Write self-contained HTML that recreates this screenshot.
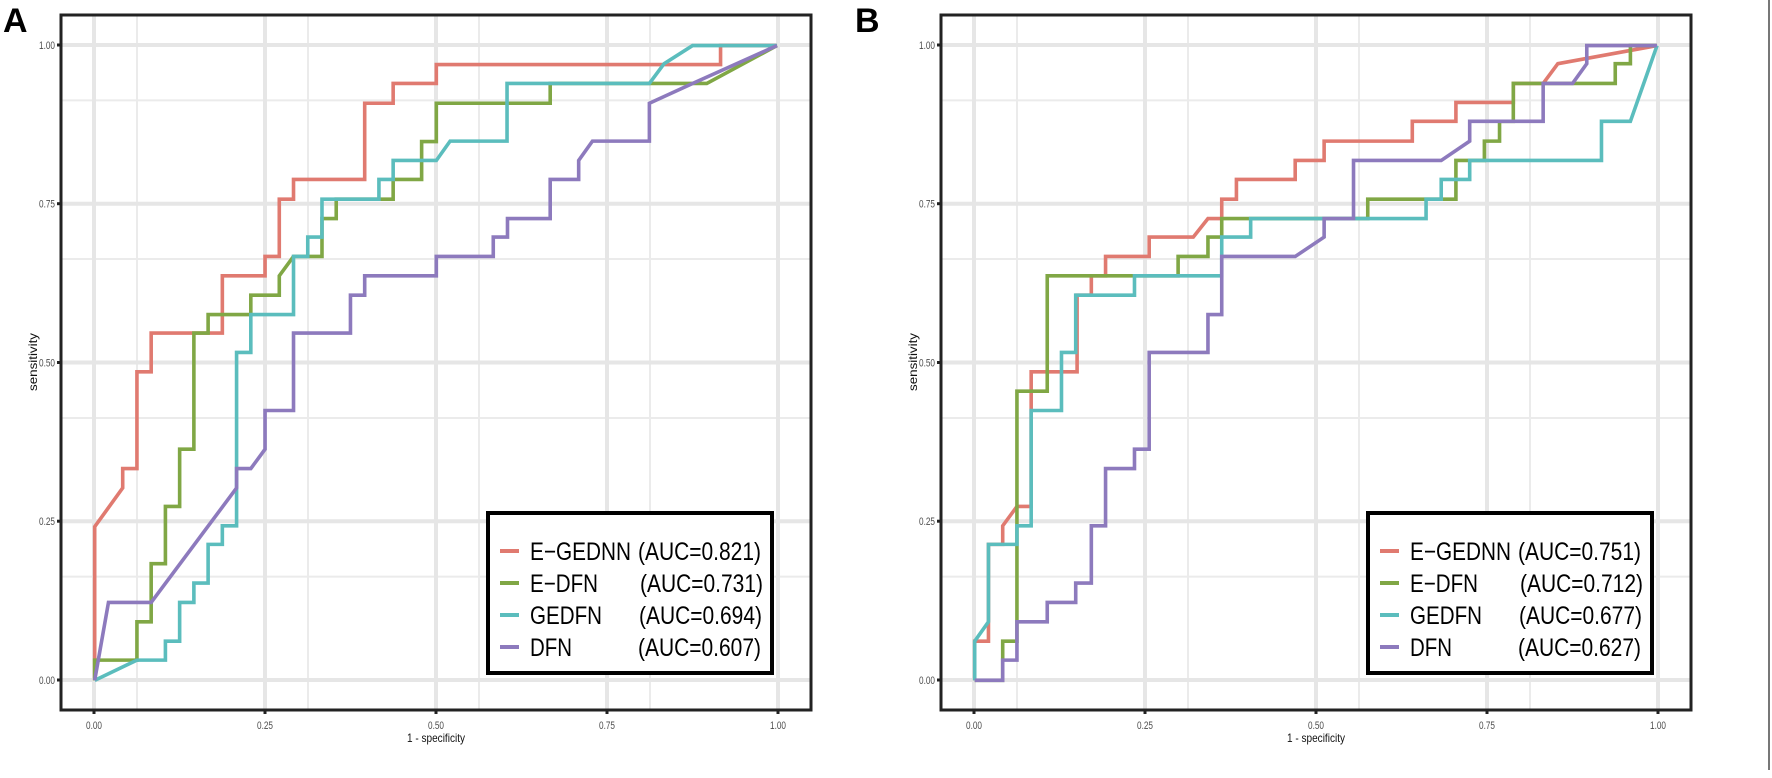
<!DOCTYPE html>
<html><head><meta charset="utf-8"><style>
html,body{margin:0;padding:0;background:#fff;}
svg{display:block;font-family:"Liberation Sans",sans-serif;}
</style></head><body>
<svg width="1772" height="778" viewBox="0 0 1772 778" xmlns="http://www.w3.org/2000/svg">
<defs>
<g id="grid">
  <g stroke="#ebebeb" stroke-width="2">
    <line x1="0" y1="85.4" x2="750" y2="85.4"/><line x1="0" y1="244" x2="750" y2="244"/>
    <line x1="0" y1="403" x2="750" y2="403"/><line x1="0" y1="561.6" x2="750" y2="561.6"/>
    <line x1="76" y1="0" x2="76" y2="695"/><line x1="247" y1="0" x2="247" y2="695"/>
    <line x1="418" y1="0" x2="418" y2="695"/><line x1="589" y1="0" x2="589" y2="695"/>
  </g>
  <g stroke="#e6e6e6" stroke-width="4">
    <line x1="0" y1="30" x2="750" y2="30"/><line x1="0" y1="188.7" x2="750" y2="188.7"/>
    <line x1="0" y1="347.5" x2="750" y2="347.5"/><line x1="0" y1="506.2" x2="750" y2="506.2"/>
    <line x1="0" y1="665" x2="750" y2="665"/>
    <line x1="33" y1="0" x2="33" y2="695"/><line x1="204" y1="0" x2="204" y2="695"/>
    <line x1="375" y1="0" x2="375" y2="695"/><line x1="546" y1="0" x2="546" y2="695"/>
    <line x1="717" y1="0" x2="717" y2="695"/>
  </g>
  <rect x="0" y="0" width="750" height="695" fill="none" stroke="#222" stroke-width="3"/>
  <g stroke="#222" stroke-width="3">
    <line x1="-4" y1="30" x2="0" y2="30"/><line x1="-4" y1="188.7" x2="0" y2="188.7"/>
    <line x1="-4" y1="347.5" x2="0" y2="347.5"/><line x1="-4" y1="506.2" x2="0" y2="506.2"/>
    <line x1="-4" y1="665" x2="0" y2="665"/>
    <line x1="33" y1="695" x2="33" y2="699"/><line x1="204" y1="695" x2="204" y2="699"/>
    <line x1="375" y1="695" x2="375" y2="699"/><line x1="546" y1="695" x2="546" y2="699"/>
    <line x1="717" y1="695" x2="717" y2="699"/>
  </g>
  <g font-size="11" fill="#4d4d4d">
    <text x="-22" y="34" textLength="16" lengthAdjust="spacingAndGlyphs">1.00</text>
    <text x="-22" y="192.7" textLength="16" lengthAdjust="spacingAndGlyphs">0.75</text>
    <text x="-22" y="351.5" textLength="16" lengthAdjust="spacingAndGlyphs">0.50</text>
    <text x="-22" y="510.2" textLength="16" lengthAdjust="spacingAndGlyphs">0.25</text>
    <text x="-22" y="669" textLength="16" lengthAdjust="spacingAndGlyphs">0.00</text>
  </g>
  <g font-size="11" fill="#4d4d4d">
    <text x="25" y="714" textLength="16" lengthAdjust="spacingAndGlyphs">0.00</text>
    <text x="196" y="714" textLength="16" lengthAdjust="spacingAndGlyphs">0.25</text>
    <text x="367" y="714" textLength="16" lengthAdjust="spacingAndGlyphs">0.50</text>
    <text x="538" y="714" textLength="16" lengthAdjust="spacingAndGlyphs">0.75</text>
    <text x="709" y="714" textLength="16" lengthAdjust="spacingAndGlyphs">1.00</text>
  </g>
  <text x="346" y="727" font-size="12" fill="#111" textLength="58" lengthAdjust="spacingAndGlyphs">1 - specificity</text>
  <text transform="translate(-24,376) rotate(-90)" font-size="12" fill="#111" textLength="58" lengthAdjust="spacingAndGlyphs">sensitivity</text>
</g>
<g id="legtext">
  <g stroke-width="4">
    <line x1="12" y1="38" x2="31" y2="38" stroke="#e07a70"/>
    <line x1="12" y1="70" x2="31" y2="70" stroke="#80a745"/>
    <line x1="12" y1="102" x2="31" y2="102" stroke="#5bbdbd"/>
    <line x1="12" y1="134" x2="31" y2="134" stroke="#8d7abd"/>
  </g>
  <g font-size="25" fill="#000">
    <text x="42" y="47" textLength="101" lengthAdjust="spacingAndGlyphs">E−GEDNN</text>
    <text x="42" y="79" textLength="68" lengthAdjust="spacingAndGlyphs">E−DFN</text>
    <text x="42" y="111" textLength="72" lengthAdjust="spacingAndGlyphs">GEDFN</text>
    <text x="42" y="143" textLength="42" lengthAdjust="spacingAndGlyphs">DFN</text>
  </g>
</g>
</defs>

<text x="3" y="32" font-size="34" font-weight="bold" fill="#000">A</text>
<text x="855" y="32" font-size="34" font-weight="bold" fill="#000">B</text>
<line x1="1769" y1="0" x2="1769" y2="770" stroke="#777" stroke-width="2"/>

<g transform="translate(61,15)"><use href="#grid"/></g>
<g transform="translate(941,15)"><use href="#grid"/></g>

<g transform="translate(80,30) scale(0.45918,0.42092)" fill="none">
<polyline vector-effect="non-scaling-stroke" stroke-width="3.6" stroke="#e07a70" points="32,1545 32,1180 93,1088 93,1042 124,1042 124,812 155,812 155,720 310,720 310,584 403,584 403,538 434,538 434,402 465,402 465,355 620,355 620,174 682,174 682,127 776,127 776,82 1395,82 1395,37 1518,37"/>
<polyline vector-effect="non-scaling-stroke" stroke-width="3.6" stroke="#80a745" points="32,1545 32,1497 124,1497 124,1406 155,1406 155,1268 186,1268 186,1132 217,1132 217,996 248,996 248,720 279,720 279,676 372,676 372,630 434,630 434,584 465,538 527,538 527,448 558,448 558,402 682,402 682,355 744,355 744,265 776,265 776,174 1024,174 1024,127 1365,127 1518,37"/>
<polyline vector-effect="non-scaling-stroke" stroke-width="3.6" stroke="#5bbdbd" points="32,1545 124,1497 186,1497 186,1452 217,1452 217,1360 248,1360 248,1314 279,1314 279,1222 310,1222 310,1178 341,1178 341,766 372,766 372,676 465,676 465,538 496,538 496,492 527,492 527,402 651,402 651,355 682,355 682,310 776,310 806,264 930,264 930,127 1240,127 1272,80 1334,37 1518,37"/>
<polyline vector-effect="non-scaling-stroke" stroke-width="3.6" stroke="#8d7abd" points="32,1545 62,1360 155,1360 341,1088 341,1042 372,1042 403,996 403,904 465,904 465,720 589,720 589,630 620,630 620,584 776,584 776,538 900,538 900,492 931,492 931,448 1024,448 1024,355 1086,355 1086,310 1116,264 1240,264 1240,174 1334,127 1518,37"/>
</g>

<g transform="translate(960,30) scale(0.45918,0.42092)" fill="none">
<polyline vector-effect="non-scaling-stroke" stroke-width="3.6" stroke="#e07a70" points="32,1545 32,1452 62,1452 62,1222 93,1222 93,1178 124,1132 155,1132 155,812 255,812 255,630 286,630 286,584 317,584 317,538 412,538 412,492 508,492 540,448 570,448 570,402 602,402 602,355 730,355 730,310 793,310 793,264 985,264 985,217 1080,217 1080,172 1205,172 1205,127 1270,127 1302,80 1518,37"/>
<polyline vector-effect="non-scaling-stroke" stroke-width="3.6" stroke="#80a745" points="32,1545 93,1545 93,1452 124,1452 124,858 190,858 190,584 475,584 475,538 540,538 540,492 570,492 570,448 888,448 888,402 1080,402 1080,310 1142,310 1142,264 1175,264 1175,217 1205,217 1205,127 1427,127 1427,80 1460,80 1460,37 1518,37"/>
<polyline vector-effect="non-scaling-stroke" stroke-width="3.6" stroke="#5bbdbd" points="32,1545 32,1452 62,1406 62,1222 124,1222 124,1178 155,1178 155,904 221,904 221,766 252,766 252,630 380,630 380,584 570,584 570,492 633,492 633,448 1015,448 1015,402 1048,402 1048,355 1110,355 1110,310 1397,310 1397,217 1460,217 1518,37"/>
<polyline vector-effect="non-scaling-stroke" stroke-width="3.6" stroke="#8d7abd" points="32,1545 93,1545 93,1497 124,1497 124,1406 190,1406 190,1360 252,1360 252,1314 286,1314 286,1178 317,1178 317,1042 380,1042 380,996 412,996 412,766 540,766 540,676 570,676 570,538 730,538 793,492 793,448 857,448 857,310 1048,310 1110,264 1110,217 1270,217 1270,127 1334,127 1365,80 1365,37 1518,37"/>
</g>

<g transform="translate(488,513)">
  <rect x="0" y="0" width="284" height="160" fill="#fff" stroke="#000" stroke-width="4"/>
  <use href="#legtext"/>
  <g font-size="25" fill="#000">
    <text x="150" y="47" textLength="123" lengthAdjust="spacingAndGlyphs">(AUC=0.821)</text>
    <text x="152" y="79" textLength="123" lengthAdjust="spacingAndGlyphs">(AUC=0.731)</text>
    <text x="151" y="111" textLength="123" lengthAdjust="spacingAndGlyphs">(AUC=0.694)</text>
    <text x="150" y="143" textLength="123" lengthAdjust="spacingAndGlyphs">(AUC=0.607)</text>
  </g>
</g>
<g transform="translate(1368,513)">
  <rect x="0" y="0" width="284" height="160" fill="#fff" stroke="#000" stroke-width="4"/>
  <use href="#legtext"/>
  <g font-size="25" fill="#000">
    <text x="150" y="47" textLength="123" lengthAdjust="spacingAndGlyphs">(AUC=0.751)</text>
    <text x="152" y="79" textLength="123" lengthAdjust="spacingAndGlyphs">(AUC=0.712)</text>
    <text x="151" y="111" textLength="123" lengthAdjust="spacingAndGlyphs">(AUC=0.677)</text>
    <text x="150" y="143" textLength="123" lengthAdjust="spacingAndGlyphs">(AUC=0.627)</text>
  </g>
</g>
</svg>
</body></html>
